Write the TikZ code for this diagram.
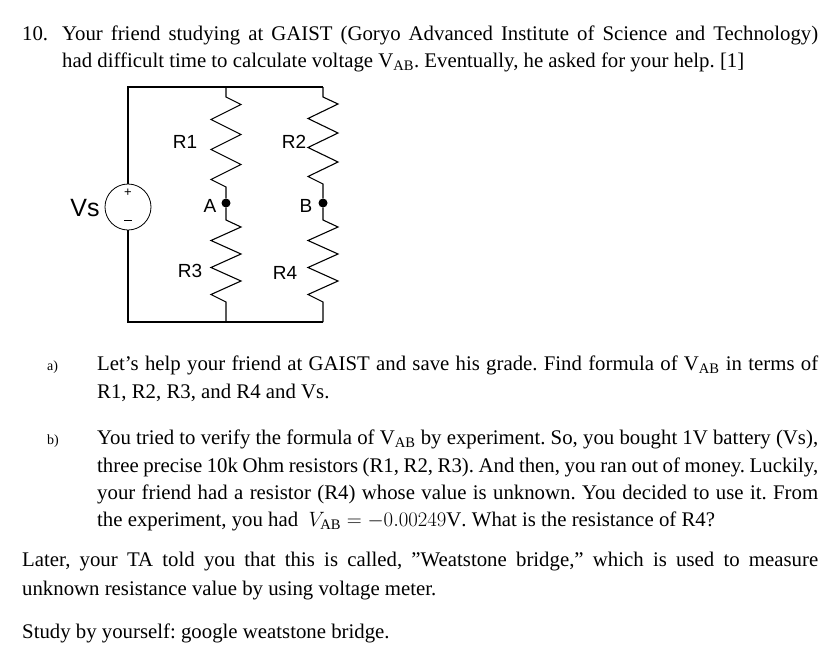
\documentclass[tikz,border=0pt]{standalone}
\usepackage{fontspec}
\setmainfont{Liberation Serif}
\newfontfamily\arial{Liberation Sans}
\frenchspacing
\tikzset{
  ln/.style={anchor=base west,inner sep=0pt,font=\fontsize{20.8}{24}\selectfont},
  lbl/.style={anchor=base west,inner sep=0pt,font=\fontsize{14}{16}\selectfont},
  cl/.style={inner sep=0pt,font=\arial\fontsize{19}{22}\selectfont},
  wire/.style={line width=1.1pt},
  dot/.style={circle,fill=black,inner sep=0pt,minimum size=9pt},
}
\newcommand{\VAB}{V\textsubscript{AB}}
\newcommand{\jl}[2]{\makebox[#1pt][s]{#2}}
\begin{document}
\begin{tikzpicture}[x=1pt,y=-1pt]
\useasboundingbox (0,0) rectangle (839,662);
% circuit
\coordinate (tl) at (128,87); \coordinate (tm) at (226,87); \coordinate (tr) at (323,87);
\coordinate (bl) at (128,322); \coordinate (bm) at (226,322); \coordinate (br) at (323,322);
\node[circle,draw,line width=0.8pt,minimum size=46pt,inner sep=0pt] (vs) at (128,207) {};
\node[cl,font=\arial\fontsize{13}{13}\selectfont] (plus) at (128,193) {+};
\node[cl,font=\arial\fontsize{13}{13}\selectfont] (minus) at (128,220) {\rule{8pt}{0.8pt}};
\draw[wire] (vs.north) -- (tl) -- (tr);
\draw[wire] (vs.south) -- (bl) -- (br);
\node[dot] (A) at (226,203) {};
\node[dot] (B) at (323,203) {};
% R1
\draw[wire] (tm) -- (226,97) -- (241,104.5) -- (211,119.5) -- (241,134.5) -- (211,149.5) -- (241,164.5) -- (211,179.5) -- (226,187) -- (A);
% R3
\draw[wire] (A) -- (226,220) -- (241,227) -- (211,240.5) -- (241,254) -- (211,267.5) -- (241,281) -- (211,294.5) -- (226,302) -- (bm);
% R2
\draw[wire] (tr) -- (323,97) -- (338,104) -- (308,118.5) -- (338,133) -- (308,147.5) -- (338,162) -- (308,176.5) -- (323,184) -- (B);
% R4
\draw[wire] (B) -- (323,220) -- (338,227) -- (308,240.5) -- (338,254) -- (308,267.5) -- (338,281) -- (308,294.5) -- (323,302) -- (br);
\node[cl] (r1) at (185,142) {R1};
\node[cl] (r2) at (294,142) {R2};
\node[cl] (r3) at (190,271) {R3};
\node[cl] (r4) at (285,273) {R4};
\node[cl] (la) at (210,206) {A};
\node[cl] (lb) at (306,206) {B};
\node[cl,font=\arial\fontsize{25}{28}\selectfont] (lvs) at (85,208) {Vs};
% text
\node[ln] (n10) at (22,40) {10.};
\node[ln] (t1) at (62,40) {\jl{756}{Your friend studying at GAIST (Goryo Advanced Institute of Science and Technology)}};
\node[ln] (t2) at (62,67) {had difficult time to calculate voltage \VAB. Eventually, he asked for your help. [1]};
\node[lbl] (la) at (47,370) {a)};
\node[ln] (a1) at (97,370) {\jl{721}{Let's help your friend at GAIST and save his grade. Find formula of \VAB{} in terms of}};
\node[ln] (a2) at (97,398) {R1, R2, R3, and R4 and Vs.};
\node[lbl] (lbb) at (47,444) {b)};
\node[ln] (b1) at (97,444) {\jl{721}{You tried to verify the formula of \VAB{} by experiment. So, you bought 1V battery (Vs),}};
\node[ln] (b2) at (97,472) {\jl{721}{three precise 10k Ohm resistors (R1, R2, R3). And then, you ran out of money. Luckily,}};
\node[ln] (b3) at (97,499) {\jl{721}{your friend had a resistor (R4) whose value is unknown. You decided to use it. From}};
\node[ln] (b4) at (97,526) {the experiment, you had \ $V_{\mathrm{AB}} = -0.00249\mathrm{V}$. What is the resistance of R4?};
\node[ln] (c1) at (22,566) {\jl{796}{Later, your TA told you that this is called, "Weatstone bridge," which is used to measure}};
\node[ln] (c2) at (22,595) {unknown resistance value by using voltage meter.};
\node[ln] (d1) at (22,638) {Study by yourself: google weatstone bridge.};
\end{tikzpicture}
\end{document}
